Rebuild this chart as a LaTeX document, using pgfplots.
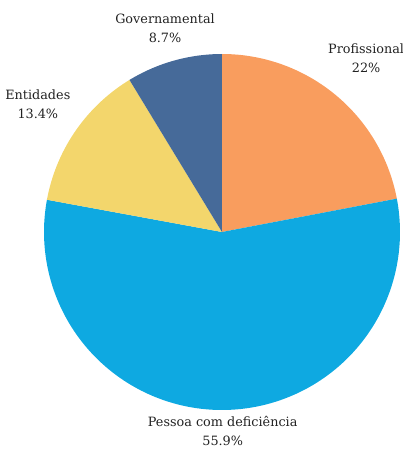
\documentclass[border=0pt]{standalone}
\usepackage{pgfplots}
\pgfplotsset{compat=1.18}
\usepgfplotslibrary{polar}
\usepackage{fontspec}
\setmainfont{DejaVu Serif}
\definecolor{cProf}{HTML}{F99D5E}
\definecolor{cPess}{HTML}{0EA9E1}
\definecolor{cEnt}{HTML}{F3D66C}
\definecolor{cGov}{HTML}{466A99}
\definecolor{cTxt}{HTML}{222222}
\tikzset{lbl/.style={font=\fontsize{12.8}{19}\selectfont, text=cTxt, align=center, inner sep=0pt}}
\begin{document}
\begin{tikzpicture}
\useasboundingbox (-222pt,-217pt) rectangle (181pt,232pt);
\begin{polaraxis}[
  at={(0,0)}, anchor=center,
  hide axis, scale only axis, width=356pt, height=356pt,
  ymin=0, ymax=1, clip=false,
]
% Profissional 22% : 90 -> 10.8 (clockwise)
\addplot[fill=cProf, draw=none, domain=10.8:90, samples=80] {1} -- (axis cs:0,0) -- cycle;
% Pessoa com deficiencia 55.9% : 10.8 -> -190.44
\addplot[fill=cPess, draw=none, domain=-190.44:10.8, samples=160] {1} -- (axis cs:0,0) -- cycle;
% Entidades 13.4% : 169.56 -> 121.32
\addplot[fill=cEnt, draw=none, domain=121.32:169.56, samples=60] {1} -- (axis cs:0,0) -- cycle;
% Governamental 8.7% : 121.32 -> 90
\addplot[fill=cGov, draw=none, domain=90:121.32, samples=40] {1} -- (axis cs:0,0) -- cycle;
\node[lbl] at (axis cs:50.4,1.27) {Profissional\\22\%};
\node[lbl] at (axis cs:-89.8,1.12) {Pessoa com deficiência\\55.9\%};
\node[lbl] at (axis cs:145.2,1.26) {Entidades\\13.4\%};
\node[lbl] at (axis cs:105.6,1.19) {Governamental\\8.7\%};
\end{polaraxis}
\end{tikzpicture}
\end{document}
